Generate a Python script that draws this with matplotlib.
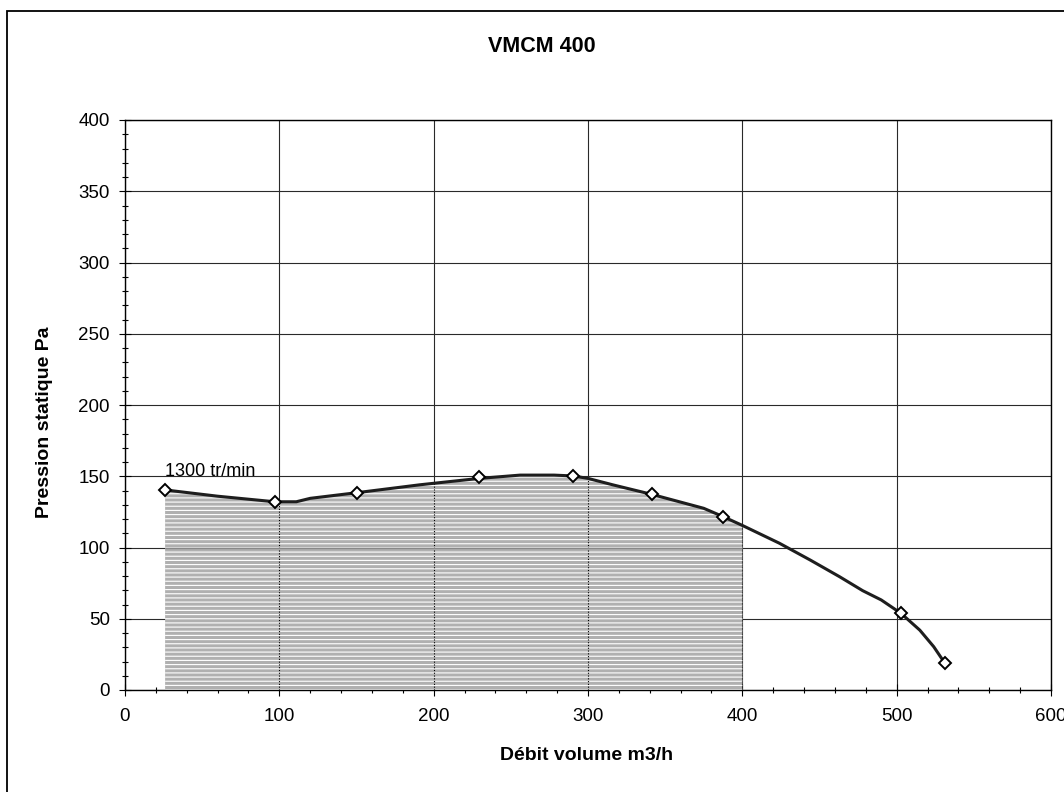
import matplotlib
matplotlib.use('Agg')
import matplotlib.pyplot as plt
from matplotlib.ticker import MultipleLocator
from matplotlib.patches import Rectangle
import numpy as np

plt.rcParams['font.family'] = ['Liberation Sans', 'DejaVu Sans']
plt.rcParams['hatch.linewidth'] = 0.8

title = "VMCM 400"
xlabel = "Débit volume m3/h"
ylabel = "Pression statique Pa"
curve_label = "1300 tr/min"

# measured points (markers)
marker_x = [26, 97, 150.5, 229.6, 290.5, 341.3, 387.7, 502.8, 531.3]
marker_y = [140.4, 132.1, 138.5, 149.3, 150.2, 137.3, 121.6, 53.8, 18.7]

# fan curve
curve_x = [26, 60, 97, 111, 120, 150.5, 191, 229.6, 256, 278, 290.5, 300, 316,
           341.3, 375, 387.7, 400, 424, 444, 463, 478, 490, 502.8, 515, 524, 531.3]
curve_y = [140.4, 136, 132.1, 132.1, 134.5, 138.5, 144, 148.5, 150.8, 150.8, 150.2,
           148.5, 144, 137.3, 127.5, 121.6, 115.5, 103, 91.2, 79.5, 69.7, 63.2,
           53.8, 42, 30.4, 18.7]
fill_end = 400

x_ticks = [0, 100, 200, 300, 400, 500, 600]
y_ticks = [0, 50, 100, 150, 200, 250, 300, 350, 400]

W, H = 1064, 792
fig = plt.figure(figsize=(W / 100, H / 100), dpi=100)
ax = fig.add_axes([125 / W, 102 / H, 926 / W, 570 / H])

cx = np.array(curve_x)
cy = np.array(curve_y)
mask = cx <= fill_end
fill = ax.fill_between(cx[mask], 0, cy[mask], facecolor='#b0b0b0', edgecolor='white',
                       hatch='----', linewidth=0, zorder=1)

clip = fill.get_paths()[0]
vl = ax.vlines(x_ticks[1:5], 0, 400, colors='black', linestyles=(0, (1, 1.5)),
               lw=0.8, zorder=2)
vl.set_clip_path(clip, ax.transData)
hl = ax.hlines([100], 0, 600, colors='#888888', lw=1.0, zorder=2)
hl.set_clip_path(clip, ax.transData)

ax.plot(cx, cy, color='#1e1e1e', lw=2.2, zorder=3, solid_joinstyle='round',
        solid_capstyle='round')
ax.plot(marker_x, marker_y, ls='none', marker='D', ms=6.5, mfc='white', mec='black',
        mew=1.4, zorder=4)

ax.set_xlim(0, 600)
ax.set_ylim(0, 400)
ax.set_xticks(x_ticks)
ax.set_yticks(y_ticks)
ax.xaxis.set_minor_locator(MultipleLocator(20))
ax.yaxis.set_minor_locator(MultipleLocator(10))
ax.set_axisbelow(True)
ax.grid(which='major', color='#2a2a2a', lw=0.8)
ax.tick_params(which='major', direction='inout', length=8, width=0.8, labelsize=13.5)
ax.tick_params(which='minor', direction='inout', length=5, width=0.8)
ax.tick_params(axis='x', which='major', pad=9)
ax.tick_params(axis='y', which='major', pad=7)
for s in ax.spines.values():
    s.set_color('black')
    s.set_linewidth(1.0)

ax.text(26, 150.2, curve_label, ha='left', va='baseline', fontsize=13)

fig.text(542 / W, 1 - 47 / H, title, ha='center', va='center', fontsize=15.5,
         fontweight='bold')
fig.text(587 / W, 1 - 755 / H, xlabel, ha='center', va='center', fontsize=14,
         fontweight='bold')
fig.text(45 / W, 1 - 422 / H, ylabel, ha='center', va='center', fontsize=14,
         fontweight='bold', rotation=90)

fig.add_artist(Rectangle((7 / W, -0.05), 1.2, 1 - 11 / H + 0.05, transform=fig.transFigure,
                         fill=False, lw=1.3, ec='black'))

fig.savefig('out.png', dpi=100)
